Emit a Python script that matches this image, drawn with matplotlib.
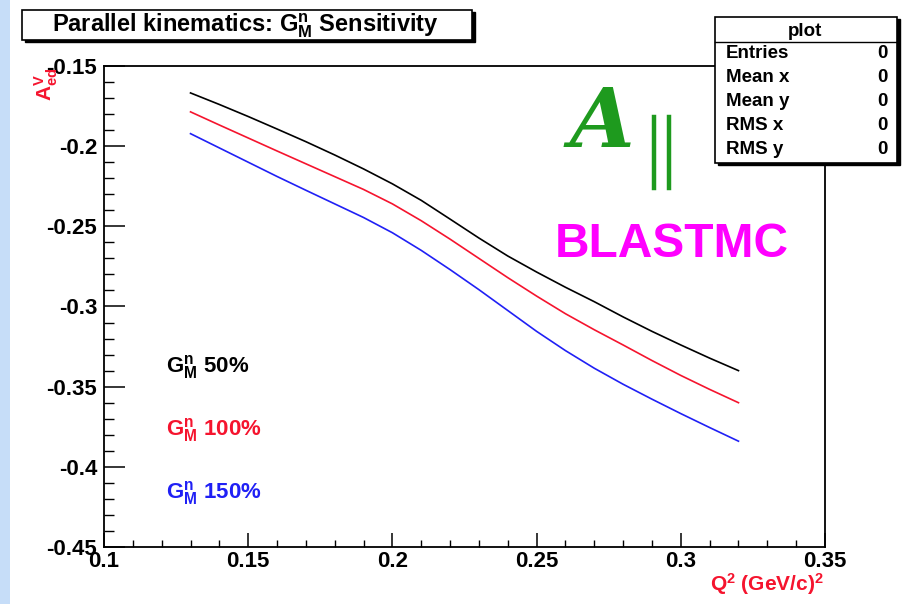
import matplotlib
matplotlib.use("Agg")
import matplotlib.pyplot as plt
from matplotlib.patches import Rectangle
from matplotlib.lines import Line2D
from matplotlib.ticker import MultipleLocator

plt.rcParams['font.family'] = ['Liberation Sans', 'DejaVu Sans']
plt.rcParams['mathtext.fontset'] = 'custom'
plt.rcParams['mathtext.rm'] = 'Liberation Sans:bold'
plt.rcParams['mathtext.it'] = 'Liberation Sans:bold'
plt.rcParams['mathtext.bf'] = 'Liberation Sans:bold'

# Q^2 grid (GeV/c)^2 and asymmetry for three G_M^n scalings
q2 = [0.13, 0.14, 0.15, 0.16, 0.17, 0.18, 0.19, 0.20, 0.21, 0.22,
      0.23, 0.24, 0.25, 0.26, 0.27, 0.28, 0.29, 0.30, 0.31, 0.32]
a_gm50 = [-0.1668, -0.1740, -0.1815, -0.1893, -0.1972, -0.2055, -0.2142,
          -0.2235, -0.2338, -0.2455, -0.2573, -0.2685, -0.2785, -0.2880,
          -0.2970, -0.3065, -0.3155, -0.3240, -0.3322, -0.3400]
a_gm100 = [-0.1786, -0.1868, -0.1949, -0.2030, -0.2110, -0.2190, -0.2270,
           -0.2360, -0.2465, -0.2580, -0.2700, -0.2820, -0.2935, -0.3045,
           -0.3145, -0.3240, -0.3337, -0.3430, -0.3517, -0.3600]
a_gm150 = [-0.1922, -0.2011, -0.2100, -0.2189, -0.2275, -0.2360, -0.2445,
           -0.2540, -0.2650, -0.2770, -0.2895, -0.3025, -0.3155, -0.3275,
           -0.3385, -0.3485, -0.3578, -0.3668, -0.3755, -0.3840]

series_labels = ['G$^{n}_{M}$ 50%', 'G$^{n}_{M}$ 100%', 'G$^{n}_{M}$ 150%']
series_colors = ['#000000', '#f5142e', '#2020f5']

stats_names = ['Entries', 'Mean x', 'Mean y', 'RMS x', 'RMS y']
stats_values = ['0', '0', '0', '0', '0']

W, H = 909, 604
fig = plt.figure(figsize=(W / 100, H / 100), dpi=100)
fig.patch.set_facecolor('white')


def fx(px):
    return px / W


def fy(py):
    return 1 - py / H


# light blue strip on the left edge
fig.add_artist(Rectangle((0, 0), fx(10), 1, transform=fig.transFigure,
                         facecolor='#c6ddf8', edgecolor='none', zorder=0))

ax = fig.add_axes([fx(104), fy(547), fx(825) - fx(104), fy(66) - fy(547)])
ax.set_xlim(0.1, 0.35)
ax.set_ylim(-0.45, -0.15)

for y, lab, col in zip([a_gm50, a_gm100, a_gm150], series_labels, series_colors):
    ax.plot(q2, y, color=col, lw=1.2, label=lab)

for sp in ax.spines.values():
    sp.set_linewidth(1.3)

ax.xaxis.set_major_locator(MultipleLocator(0.05))
ax.xaxis.set_minor_locator(MultipleLocator(0.01))
ax.yaxis.set_major_locator(MultipleLocator(0.05))
ax.yaxis.set_minor_locator(MultipleLocator(0.01))
ax.xaxis.set_major_formatter(plt.FuncFormatter(lambda v, p: f'{v:g}'))
ax.yaxis.set_major_formatter(plt.FuncFormatter(lambda v, p: f'{v:g}'))
ax.tick_params(axis='x', which='major', direction='in', length=10, width=1.1,
               labelsize=16, pad=3)
ax.tick_params(axis='x', which='minor', direction='in', length=5, width=1.0)
ax.tick_params(axis='y', which='major', direction='in', length=15, width=1.1,
               labelsize=16, pad=5)
ax.tick_params(axis='y', which='minor', direction='in', length=7.5, width=1.0)
for lab in ax.get_xticklabels() + ax.get_yticklabels():
    lab.set_fontweight('bold')

# series labels inside the frame
for lab, col, py in zip(series_labels, series_colors, [372, 435, 498]):
    fig.text(fx(166), fy(py), lab, color=col, fontsize=16, fontweight='bold',
             ha='left', va='baseline')

# axis titles
fig.text(fx(46), fy(68), r'A$^{V}_{ed}$', color='#f5142e', fontsize=15,
         fontweight='bold', rotation=90, ha='center', va='top')
fig.text(fx(824), fy(591), r'Q$^{2}$ (GeV/c)$^{2}$', color='#f5142e',
         fontsize=15, fontweight='bold', ha='right', va='baseline')

# A_parallel annotation
fig.text(fx(570), fy(147), 'A', color='#1e9a1e', fontsize=60,
         family='DejaVu Serif', style='italic', fontweight='bold',
         ha='left', va='baseline')
for bx in [654, 669]:
    fig.add_artist(Line2D([fx(bx), fx(bx)], [fy(117), fy(188)],
                          transform=fig.transFigure, color='#1e9a1e', lw=3.2))

fig.text(fx(555), fy(257), 'BLASTMC', color='#ff00ff', fontsize=34.5,
         fontweight='bold', ha='left', va='baseline')

# title box with shadow
fig.add_artist(Rectangle((fx(25), fy(42)), fx(472) - fx(22), fy(10) - fy(40),
                         transform=fig.transFigure, facecolor='black',
                         edgecolor='black', zorder=5))
fig.add_artist(Rectangle((fx(22), fy(40)), fx(472) - fx(22), fy(10) - fy(40),
                         transform=fig.transFigure, facecolor='white',
                         edgecolor='black', lw=1.2, zorder=6))
fig.text(fx(245), fy(32), 'Parallel kinematics: G$^{n}_{M}$ Sensitivity',
         fontsize=17, fontweight='bold', ha='center', va='baseline', zorder=7)

# statistics box with shadow
fig.add_artist(Rectangle((fx(718), fy(165)), fx(897) - fx(715), fy(17) - fy(163),
                         transform=fig.transFigure, facecolor='black',
                         edgecolor='black', zorder=5))
fig.add_artist(Rectangle((fx(715), fy(163)), fx(897) - fx(715), fy(17) - fy(163),
                         transform=fig.transFigure, facecolor='white',
                         edgecolor='black', lw=1.2, zorder=6))
fig.add_artist(Line2D([fx(715), fx(897)], [fy(42), fy(42)],
                      transform=fig.transFigure, color='black', lw=1.0, zorder=7))
fig.text(fx(805), fy(36), 'plot', fontsize=13.5, fontweight='bold',
         ha='center', va='baseline', zorder=7)
for i, (nm, val) in enumerate(zip(stats_names, stats_values)):
    py = 58 + 24 * i
    fig.text(fx(726), fy(py), nm, fontsize=13.5, fontweight='bold',
             ha='left', va='baseline', zorder=7)
    fig.text(fx(888), fy(py), val, fontsize=13.5, fontweight='bold',
             ha='right', va='baseline', zorder=7)

fig.savefig('out.png', dpi=100)
